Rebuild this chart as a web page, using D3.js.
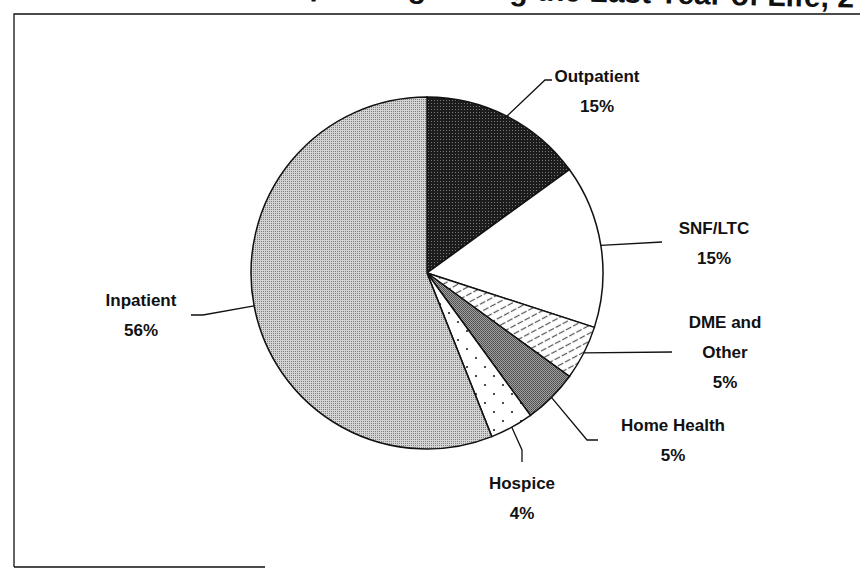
<!DOCTYPE html>
<html>
<head>
<meta charset="utf-8">
<script src="https://cdn.jsdelivr.net/npm/d3@7"></script>
<style>
  body { margin: 0; background: #fff; }
  svg { display: block; }
  text { font-family: "Liberation Sans", Arial, sans-serif; font-weight: bold; fill: #111; }
</style>
</head>
<body>
<svg id="chart" width="860" height="571"></svg>
<script>
var categories = ["Outpatient", "SNF/LTC", "DME and Other", "Home Health", "Hospice", "Inpatient"];
var shares = [15, 15, 5, 5, 4, 56];
var labelLines = [["Outpatient", "15%"], ["SNF/LTC", "15%"], ["DME and", "Other", "5%"],
                  ["Home Health", "5%"], ["Hospice", "4%"], ["Inpatient", "56%"]];

var svg = d3.select("#chart"),
    cx = 427, cy = 273, radius = 176;

var defs = svg.append("defs");

// dithered-looking fills of the scanned original
var p1 = defs.append("pattern").attr("id", "dark").attr("width", 3).attr("height", 3)
    .attr("patternUnits", "userSpaceOnUse");
p1.append("rect").attr("width", 3).attr("height", 3).attr("fill", "#1c1c1c");
p1.append("rect").attr("x", 1).attr("y", 1).attr("width", 1).attr("height", 1).attr("fill", "#777");

var p2 = defs.append("pattern").attr("id", "light").attr("width", 2).attr("height", 2)
    .attr("patternUnits", "userSpaceOnUse");
p2.append("rect").attr("width", 2).attr("height", 2).attr("fill", "#d4d4d4");
p2.append("rect").attr("width", 1).attr("height", 1).attr("fill", "#7e7e7e");

var p3 = defs.append("pattern").attr("id", "mid").attr("width", 2).attr("height", 2)
    .attr("patternUnits", "userSpaceOnUse");
p3.append("rect").attr("width", 2).attr("height", 2).attr("fill", "#a0a0a0");
p3.append("rect").attr("width", 1).attr("height", 1).attr("fill", "#4a4a4a");
p3.append("rect").attr("x", 1).attr("y", 1).attr("width", 1).attr("height", 1).attr("fill", "#5a5a5a");

var p4 = defs.append("pattern").attr("id", "stripes").attr("width", 8).attr("height", 7)
    .attr("patternUnits", "userSpaceOnUse").attr("patternTransform", "rotate(-28)");
p4.append("rect").attr("width", 8).attr("height", 7).attr("fill", "#fff");
p4.append("line").attr("x1", 0).attr("x2", 6).attr("y1", 3.5).attr("y2", 3.5)
    .attr("stroke", "#555").attr("stroke-width", 1.2);

var p5 = defs.append("pattern").attr("id", "dots").attr("width", 18).attr("height", 18)
    .attr("patternUnits", "userSpaceOnUse");
p5.append("rect").attr("width", 18).attr("height", 18).attr("fill", "#fff");
p5.append("circle").attr("cx", 4).attr("cy", 4).attr("r", 1.1).attr("fill", "#222");
p5.append("circle").attr("cx", 13).attr("cy", 13).attr("r", 1.1).attr("fill", "#222");

var fills = ["url(#dark)", "#fff", "url(#stripes)", "url(#mid)", "url(#dots)", "url(#light)"];

// title is mostly cut off by the top edge in the scan (slightly tilted)
svg.append("text")
    .attr("x", 151).attr("y", -1)
    .attr("transform", "rotate(1.3, 470, -1)")
    .style("font-size", "30px")
    .text("Medicare Spending during the Last Year of Life, 2");

svg.append("path")
    .attr("d", "M14,567 L14,14 L860,14 M14,567 L265,567")
    .attr("fill", "none").attr("stroke", "#111").attr("stroke-width", 1.3);

var pie = d3.pie().sort(null).value(function(d) { return d; });
var arc = d3.arc().innerRadius(0).outerRadius(radius);
var arcs = pie(shares);

var g = svg.append("g").attr("transform", "translate(" + cx + "," + cy + ")");

g.selectAll("path.slice")
    .data(arcs)
  .enter().append("path")
    .attr("class", "slice")
    .attr("fill", function(d, i) { return fills[i]; })
    .attr("stroke", "#111")
    .attr("stroke-width", 1.5)
    .attr("d", arc);

// leader lines: start on the rim at slice middle, then elbow toward the label
var leaders = [
  [[545, 80], [552, 80]],
  [[662, 242]],
  [[672, 352]],
  [[587, 440], [598, 440]],
  [[522, 450], [522, 462]],
  [[203, 315], [191, 315]]
];
var labelPos = [[597, 76], [714, 228], [725, 322], [673, 425], [522, 483], [141, 300]];

arcs.forEach(function(d, i) {
  var a = (d.startAngle + d.endAngle) / 2;
  var start = [cx + radius * Math.sin(a), cy - radius * Math.cos(a)];
  var pts = [start].concat(leaders[i]);
  svg.append("path")
      .attr("d", d3.line()(pts))
      .attr("fill", "none").attr("stroke", "#111").attr("stroke-width", 1.3);

  var t = svg.append("text")
      .attr("text-anchor", "middle")
      .attr("x", labelPos[i][0]).attr("y", labelPos[i][1] + 6)
      .style("font-size", "17px");
  labelLines[i].forEach(function(s, j) {
    t.append("tspan").attr("x", labelPos[i][0]).attr("dy", j === 0 ? 0 : 30).text(s);
  });
});
</script>
</body>
</html>
